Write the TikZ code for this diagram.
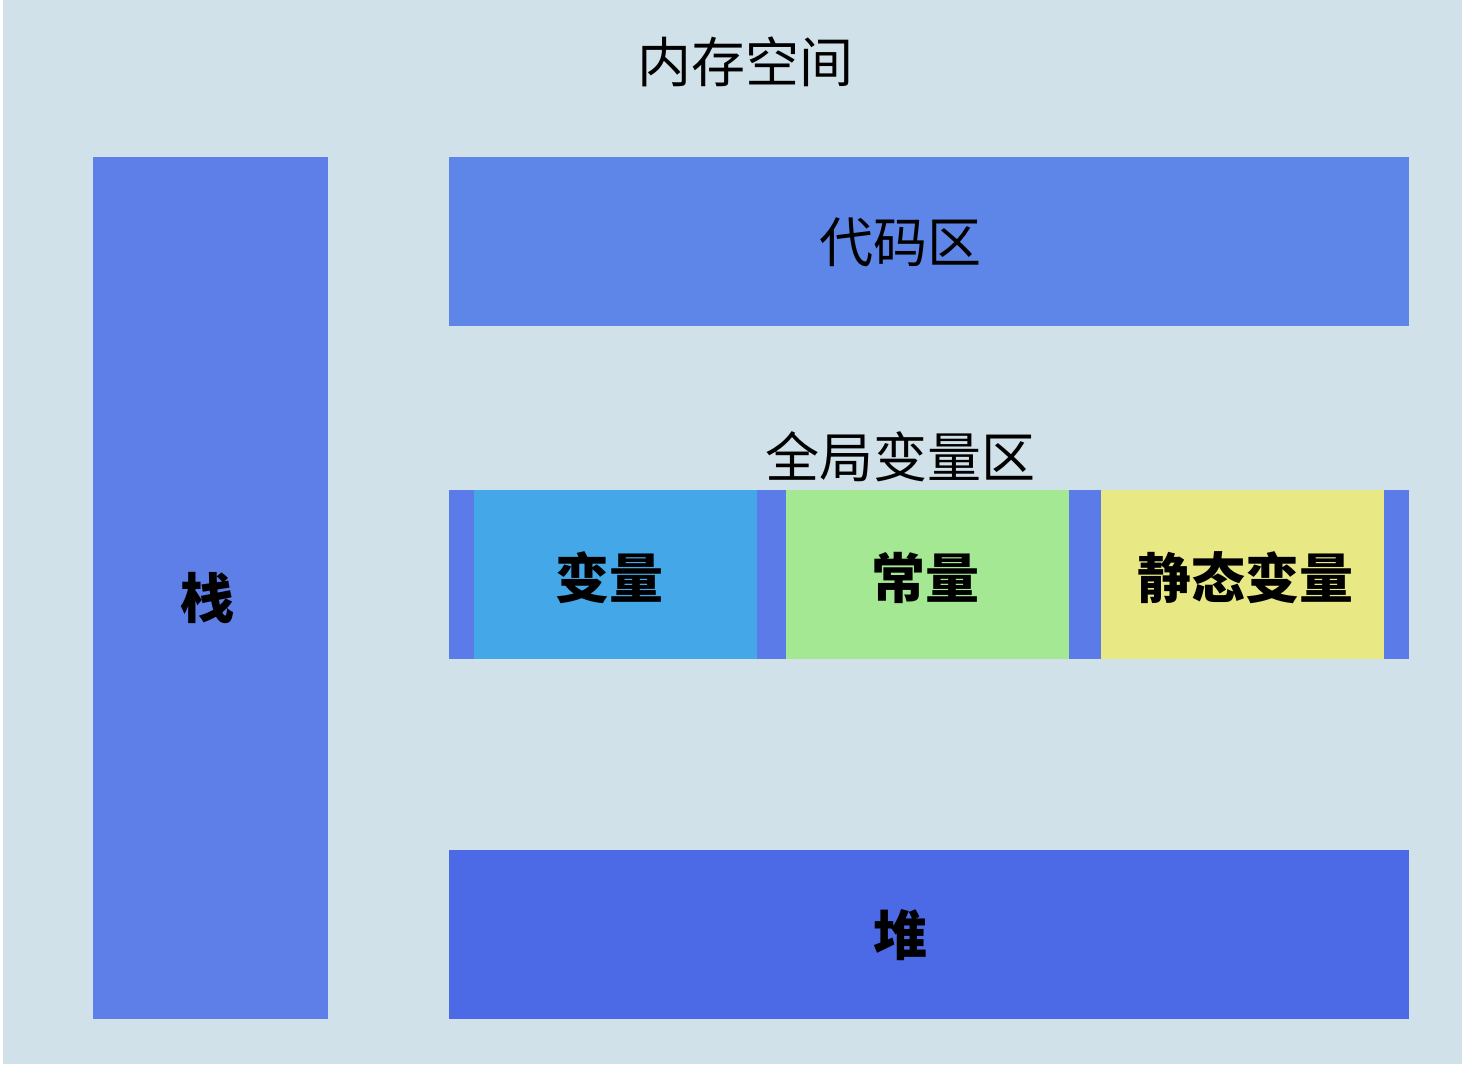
\documentclass[tikz,border=0pt]{standalone}
\usepackage{fontspec}
\newfontfamily\cjk{Noto Sans CJK SC}
\definecolor{bg}{HTML}{D0E1EA}
\definecolor{stk}{HTML}{5E7FE8}
\definecolor{code}{HTML}{5E86E8}
\definecolor{glob}{HTML}{5A7BE8}
\definecolor{var}{HTML}{44A8E8}
\definecolor{cst}{HTML}{A4E894}
\definecolor{sta}{HTML}{E8E885}
\definecolor{heap}{HTML}{4D6AE6}
\begin{document}
\begin{tikzpicture}[x=0.5pt,y=-0.5pt,
  lbl/.style={font=\cjk\fontsize{27}{30}\selectfont, text=black, inner sep=0pt},
  blbl/.style={font=\cjk\bfseries\fontsize{27}{30}\selectfont, text=black, inner sep=0pt}]
\useasboundingbox (0,0) rectangle (1466,1066);
\fill[white] (0,0) rectangle (1466,1066);
\fill[bg] (3,0) rectangle (1462,1064);
\node[lbl] (title) at (745,62) {内存空间};
\fill[stk] (93,157) rectangle (328,1019);
\node[blbl] (stack) at (207,598) {栈};
\fill[code] (449,157) rectangle (1409,326);
\node[lbl] (codeA) at (900,242) {代码区};
\node[lbl] (globT) at (900,457) {全局变量区};
\fill[glob] (449,490) rectangle (1409,659);
\fill[var] (474,490) rectangle (757,659);
\node[blbl] (v) at (609,578) {变量};
\fill[cst] (786,490) rectangle (1069,659);
\node[blbl] (c) at (925,578) {常量};
\fill[sta] (1101,490) rectangle (1384,659);
\node[blbl] (s) at (1245,578) {静态变量};
\fill[heap] (449,850) rectangle (1409,1019);
\node[blbl] (h) at (900,935) {堆};
\end{tikzpicture}
\end{document}
